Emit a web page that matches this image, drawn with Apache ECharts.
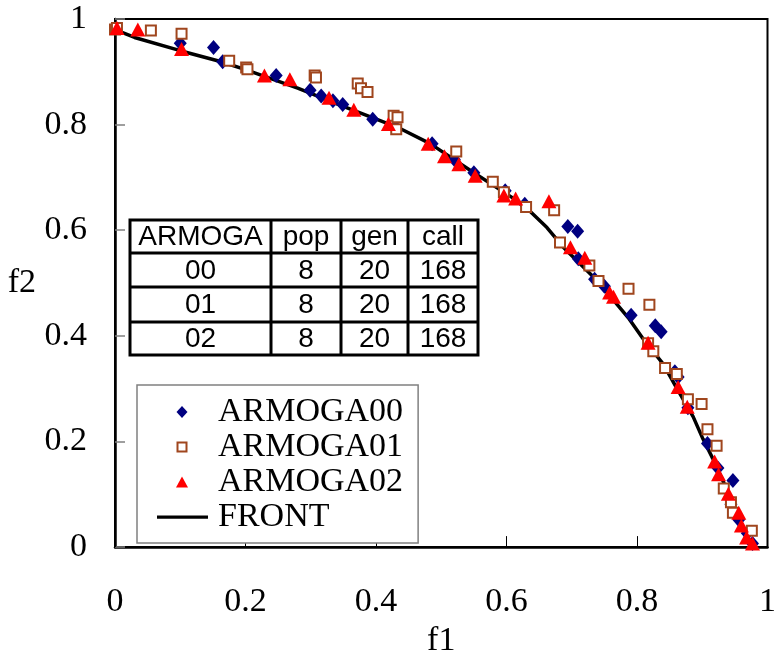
<!DOCTYPE html>
<html>
<head>
<meta charset="utf-8">
<script src="https://cdn.jsdelivr.net/npm/echarts@6/dist/echarts.min.js"></script>
<style>
  html, body { margin: 0; padding: 0; background: #fff; }
  #chart { width: 779px; height: 663px; }
</style>
</head>
<body>
<div id="chart"></div>
<script>
// Pareto solutions (f1, f2) found by each ARMOGA run
const armoga00 = [
  [0.100, 0.954], [0.151, 0.946], [0.165, 0.919], [0.247, 0.893], [0.299, 0.865],
  [0.316, 0.854], [0.334, 0.845], [0.349, 0.838], [0.395, 0.810], [0.430, 0.795],
  [0.486, 0.764], [0.520, 0.734], [0.550, 0.709], [0.598, 0.675], [0.628, 0.649],
  [0.694, 0.607], [0.709, 0.598], [0.710, 0.546], [0.735, 0.507], [0.750, 0.494],
  [0.791, 0.439], [0.828, 0.419], [0.837, 0.408], [0.858, 0.332], [0.863, 0.322],
  [0.878, 0.264], [0.908, 0.196], [0.924, 0.150], [0.947, 0.126], [0.944, 0.081],
  [0.956, 0.052], [0.969, 0.026], [0.977, 0.007]
];
const armoga01 = [
  [0.000, 0.980], [0.003, 0.983], [0.055, 0.978], [0.102, 0.972], [0.175, 0.921],
  [0.201, 0.908], [0.203, 0.905], [0.306, 0.893], [0.308, 0.889], [0.372, 0.878],
  [0.377, 0.869], [0.387, 0.862], [0.427, 0.817], [0.433, 0.814], [0.431, 0.791],
  [0.523, 0.749], [0.579, 0.692], [0.596, 0.672], [0.630, 0.644], [0.673, 0.638],
  [0.682, 0.577], [0.727, 0.533], [0.741, 0.504], [0.787, 0.489], [0.819, 0.459],
  [0.817, 0.386], [0.825, 0.371], [0.843, 0.339], [0.861, 0.328], [0.878, 0.280],
  [0.899, 0.271], [0.908, 0.223], [0.922, 0.192], [0.933, 0.111], [0.944, 0.085],
  [0.947, 0.065], [0.976, 0.031]
];
const armoga02 = [
  [0.003, 0.983], [0.035, 0.980], [0.102, 0.943], [0.229, 0.893], [0.268, 0.886],
  [0.328, 0.851], [0.366, 0.828], [0.419, 0.801], [0.480, 0.764], [0.505, 0.740],
  [0.527, 0.725], [0.552, 0.703], [0.596, 0.666], [0.614, 0.660], [0.665, 0.655],
  [0.698, 0.568], [0.720, 0.548], [0.758, 0.482], [0.764, 0.474], [0.817, 0.387],
  [0.863, 0.303], [0.877, 0.266], [0.919, 0.162], [0.925, 0.138], [0.940, 0.101],
  [0.956, 0.065], [0.960, 0.041], [0.968, 0.018], [0.977, 0.007]
];
// Reference Pareto front
const front = [
  [0.000, 0.980], [0.030, 0.965], [0.100, 0.940], [0.163, 0.919], [0.200, 0.904],
  [0.280, 0.869], [0.341, 0.839], [0.433, 0.795], [0.483, 0.764], [0.550, 0.709],
  [0.626, 0.648], [0.662, 0.605], [0.687, 0.568], [0.738, 0.506], [0.788, 0.432],
  [0.809, 0.395], [0.840, 0.347], [0.860, 0.303], [0.886, 0.247], [0.901, 0.205],
  [0.916, 0.168], [0.941, 0.100], [0.962, 0.039], [0.977, 0.000]
];

// Run settings table
const tableHeader = ['ARMOGA', 'pop', 'gen', 'call'];
const tableRows = [
  ['00', '8', '20', '168'],
  ['01', '8', '20', '168'],
  ['02', '8', '20', '168']
];

const seriesNames = ['ARMOGA00', 'ARMOGA01', 'ARMOGA02', 'FRONT'];

const SERIF = '"Liberation Serif", "Times New Roman", serif';
const SANS = '"Liberation Sans", Arial, sans-serif';

// Legend icons: each path carries two bare move-to points (0,0) and (52,14)
// so the icon box spans the whole item width and the glyph keeps its own size.
const ICON_BOX = 'M0,0M52,14';
const legendIcons = {
  ARMOGA00: 'path://' + ICON_BOX + 'M25,1L30.5,7L25,13L19.5,7Z',
  ARMOGA01: 'path://' + ICON_BOX + 'M20.5,2.5L29.5,2.5L29.5,11.5L20.5,11.5Z',
  ARMOGA02: 'path://' + ICON_BOX + 'M25,1.5L31,12.5L19,12.5Z',
  FRONT: 'path://' + ICON_BOX + 'M0,5.5L51,5.5L51,8.7L0,8.7Z'
};

// table geometry (pixels)
const colEdges = [130, 271, 341, 408, 478];
const rowEdges = [220, 253, 287, 322, 355];

function buildTable() {
  const els = [];
  const allRows = [tableHeader].concat(tableRows);
  els.push({
    type: 'rect', z: 100,
    shape: { x: colEdges[0], y: rowEdges[0], width: colEdges[4] - colEdges[0], height: rowEdges[4] - rowEdges[0] },
    style: { fill: '#fff', stroke: '#000', lineWidth: 3 }
  });
  for (let i = 1; i < colEdges.length - 1; i++) {
    els.push({ type: 'line', z: 101,
      shape: { x1: colEdges[i], y1: rowEdges[0], x2: colEdges[i], y2: rowEdges[4] },
      style: { stroke: '#000', lineWidth: 3 } });
  }
  for (let j = 1; j < rowEdges.length - 1; j++) {
    els.push({ type: 'line', z: 101,
      shape: { x1: colEdges[0], y1: rowEdges[j], x2: colEdges[4], y2: rowEdges[j] },
      style: { stroke: '#000', lineWidth: 3 } });
  }
  allRows.forEach((row, r) => {
    row.forEach((txt, c) => {
      els.push({ type: 'text', z: 102,
        x: (colEdges[c] + colEdges[c + 1]) / 2,
        y: (rowEdges[r] + rowEdges[r + 1]) / 2 + 1,
        style: { text: txt, fill: '#000', font: '28px ' + SANS, align: 'center', verticalAlign: 'middle' } });
    });
  });
  return els;
}

const chart = echarts.init(document.getElementById('chart'), null, { renderer: 'canvas' });
chart.setOption({
  animation: false,
  backgroundColor: '#fff',
  grid: { left: 115, right: 8, top: 19, bottom: 102, show: true, borderColor: '#000', borderWidth: 2, backgroundColor: 'transparent' },
  xAxis: {
    type: 'value', min: 0, max: 1, interval: 0.2,
    name: 'f1', nameLocation: 'middle', nameGap: 68,
    nameTextStyle: { fontFamily: SERIF, fontSize: 34, color: '#000' },
    axisLine: { show: true, lineStyle: { color: '#000', width: 2.5 } },
    axisTick: { show: true, inside: true, length: 11, lineStyle: { color: '#000', width: 1 } },
    axisLabel: { margin: 38, fontFamily: SERIF, fontSize: 34, color: '#000' },
    splitLine: { show: false }
  },
  yAxis: {
    type: 'value', min: 0, max: 1, interval: 0.2,
    name: 'f2', nameLocation: 'middle', nameGap: 79, nameRotate: 0,
    nameTextStyle: { fontFamily: SERIF, fontSize: 34, color: '#000' },
    axisLine: { show: true, lineStyle: { color: '#000', width: 2.5 } },
    axisTick: { show: true, inside: true, length: 10, lineStyle: { color: '#808080', width: 1.5 } },
    axisLabel: { margin: 28, fontFamily: SERIF, fontSize: 34, color: '#000' },
    splitLine: { show: false }
  },
  legend: {
    data: seriesNames.map(n => ({ name: n, icon: legendIcons[n] })),
    orient: 'vertical',
    left: 137, top: 385,
    padding: [10, 15, 9, 19],
    itemGap: 1,
    itemWidth: 52, itemHeight: 14,
    backgroundColor: '#fff',
    borderColor: '#808080', borderWidth: 1.5, borderRadius: 0,
    textStyle: { fontFamily: SERIF, fontSize: 34, color: '#000', padding: [0, 0, 0, 4] },
    z: 90
  },
  series: [
    {
      name: seriesNames[0], type: 'scatter', data: armoga00, z: 3,
      symbol: 'diamond', symbolSize: [13, 15],
      itemStyle: { color: '#000080', opacity: 1 }
    },
    {
      name: seriesNames[1], type: 'scatter', data: armoga01, z: 4,
      symbol: 'rect', symbolSize: 10,
      itemStyle: { color: '#fff', borderColor: '#A0461E', borderWidth: 2, opacity: 1 }
    },
    {
      name: seriesNames[2], type: 'scatter', data: armoga02, z: 5,
      symbol: 'triangle', symbolSize: [15, 14],
      itemStyle: { color: '#FF0000', opacity: 1 }
    },
    {
      name: seriesNames[3], type: 'line', data: front, z: 2,
      showSymbol: false, symbol: 'none', smooth: false,
      lineStyle: { color: '#000', width: 3.5 },
      itemStyle: { color: '#000' }
    }
  ],
  graphic: buildTable()
});
</script>
</body>
</html>
